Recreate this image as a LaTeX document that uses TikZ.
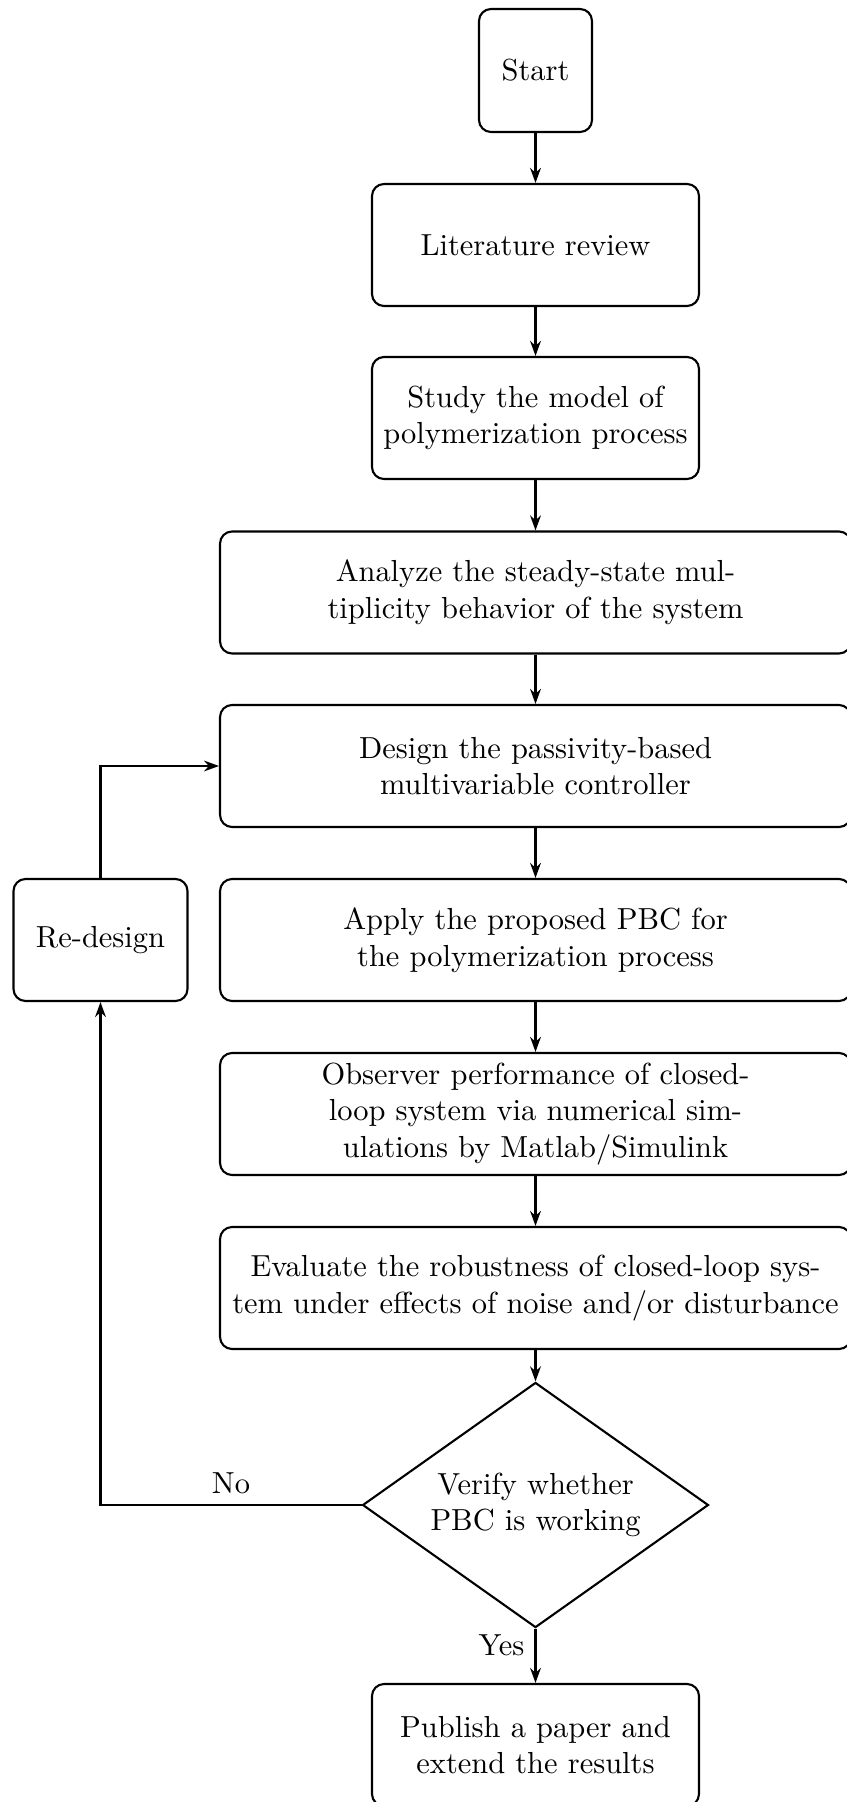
\documentclass[tikz,border=0pt]{standalone}
\usetikzlibrary{shapes.geometric,arrows.meta}
\tikzset{
  every node/.style={font=\fontsize{10.15pt}{12.2pt}\selectfont},
  box/.style={draw, rounded corners=4pt, line width=0.7pt, align=center,
    minimum height=40.67pt, inner sep=2pt},
  narrow/.style={box, minimum width=109pt},
  wide/.style={box, minimum width=210.3pt},
  decision/.style={draw, diamond, line width=0.7pt, align=center, aspect=1.41,
    minimum width=115.3pt, minimum height=81.7pt, inner sep=0pt},
  flow/.style={line width=0.7pt, -{Stealth[length=5pt,width=3.6pt]}}
}
\begin{document}
\begin{tikzpicture}[x=0.33333pt, y=-0.33333pt]
\clip (0,0) rectangle (847,1802);
\node[box, minimum width=37.67pt, minimum height=41pt] (start) at (535.5,70.5) {Start};
\node[narrow] (lit) at (535.5,245) {Literature review};
\node[narrow] (study) at (535.5,418) {Study the model of\\polymerization process};
\node[wide] (analyze) at (535.5,592.5) {Analyze the steady-state mul-\\tiplicity behavior of the system};
\node[wide] (design) at (535.5,766) {Design the passivity-based\\multivariable controller};
\node[wide] (apply) at (535.5,940) {Apply the proposed PBC for\\the polymerization process};
\node[wide] (observer) at (535.5,1114) {Observer performance of closed-\\loop system via numerical sim-\\ulations by Matlab/Simulink};
\node[wide] (evaluate) at (535.5,1288) {Evaluate the robustness of closed-loop sys-\\tem under effects of noise and/or disturbance};
\node[decision] (verify) at (535.5,1505) {Verify whether\\PBC is working};
\node[narrow] (publish) at (535.5,1745) {Publish a paper and\\extend the results};
\node[box, minimum width=58pt] (redesign) at (100.5,940) {Re-design};

\draw[flow] (start) -- (lit);
\draw[flow] (lit) -- (study);
\draw[flow] (study) -- (analyze);
\draw[flow] (analyze) -- (design);
\draw[flow] (design) -- (apply);
\draw[flow] (apply) -- (observer);
\draw[flow] (observer) -- (evaluate);
\draw[flow] (evaluate) -- (verify);
\draw[flow] (verify) -- node[left, pos=0.3] {Yes} (publish);
\draw[flow] (verify.west) -| node[above, pos=0.25] {No} (redesign.south);
\draw[flow] (redesign.north) |- (design.west);
\end{tikzpicture}
\end{document}
